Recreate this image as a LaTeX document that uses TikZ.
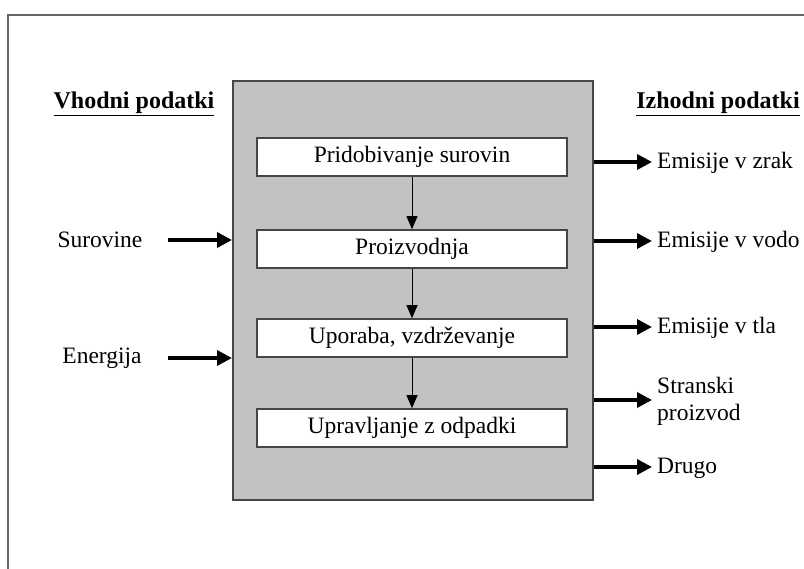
\documentclass[tikz,border=0pt]{standalone}
\usepackage{fontspec}
\setmainfont{Liberation Serif}
\usetikzlibrary{arrows.meta}
\definecolor{panelgray}{RGB}{194,194,194}
\definecolor{edgegray}{RGB}{70,70,70}
\begin{document}
\begin{tikzpicture}[x=1pt,y=-1pt,
  every node/.style={font=\fontsize{23.5}{27}\selectfont, inner sep=0pt},
  stage/.style={draw=edgegray, line width=1.6pt, fill=white,
                minimum width=310pt, minimum height=38pt},
  flow/.style={-{Triangle[length=13pt,width=11pt]}, line width=1pt},
  io/.style={-{Triangle[length=15pt,width=15pt]}, line width=3.5pt},
  head/.style={font=\fontsize{24}{28}\selectfont\bfseries, anchor=base}
]
\useasboundingbox (0,0) rectangle (804,569);

% outer frame (only the left and top edges lie inside the page)
\draw[black!60, line width=2pt] (8,569) -- (8,15) -- (804,15);

% process panel
\node[draw=edgegray, line width=2pt, fill=panelgray,
      minimum width=360pt, minimum height=419pt] (panel) at (413,290.5) {};

% life-cycle stages
\node[stage] (s1) at (412,157) {Pridobivanje surovin};
\node[stage] (s2) at (412,249) {Proizvodnja};
\node[stage] (s3) at (412,338) {Uporaba, vzdrževanje};
\node[stage] (s4) at (412,428) {Upravljanje z odpadki};
\draw[flow] (s1) -- (s2);
\draw[flow] (s2) -- (s3);
\draw[flow] (s3) -- (s4);

% headings
\node[head] (hin)  at (134,109) {\underline{Vhodni podatki}};
\node[head] (hout) at (718,109) {\underline{Izhodni podatki}};

% inputs
\node (surovine) at (100,240) {Surovine};
\node (energija) at (102,358) {Energija};
\coordinate (inA) at (168,240);
\coordinate (inB) at (168,358);
\draw[io] (inA) -- (panel.west |- inA);
\draw[io] (inB) -- (panel.west |- inB);

% outputs
\coordinate (outA) at (652,162);
\coordinate (outB) at (652,241);
\coordinate (outC) at (652,327);
\coordinate (outD) at (652,400);
\coordinate (outE) at (652,467);
\draw[io] (panel.east |- outA) -- (outA);
\draw[io] (panel.east |- outB) -- (outB);
\draw[io] (panel.east |- outC) -- (outC);
\draw[io] (panel.east |- outD) -- (outD);
\draw[io] (panel.east |- outE) -- (outE);
\node[anchor=base west] (zrak) at (657,169) {Emisije v zrak};
\node[anchor=base west] (voda) at (657,248) {Emisije v vodo};
\node[anchor=base west] (tla)  at (657,334) {Emisije v tla};
\node[anchor=west, align=left] (stranski) at (657,401) {Stranski\\proizvod};
\node[anchor=base west] (drugo) at (657,474) {Drugo};
\end{tikzpicture}
\end{document}
